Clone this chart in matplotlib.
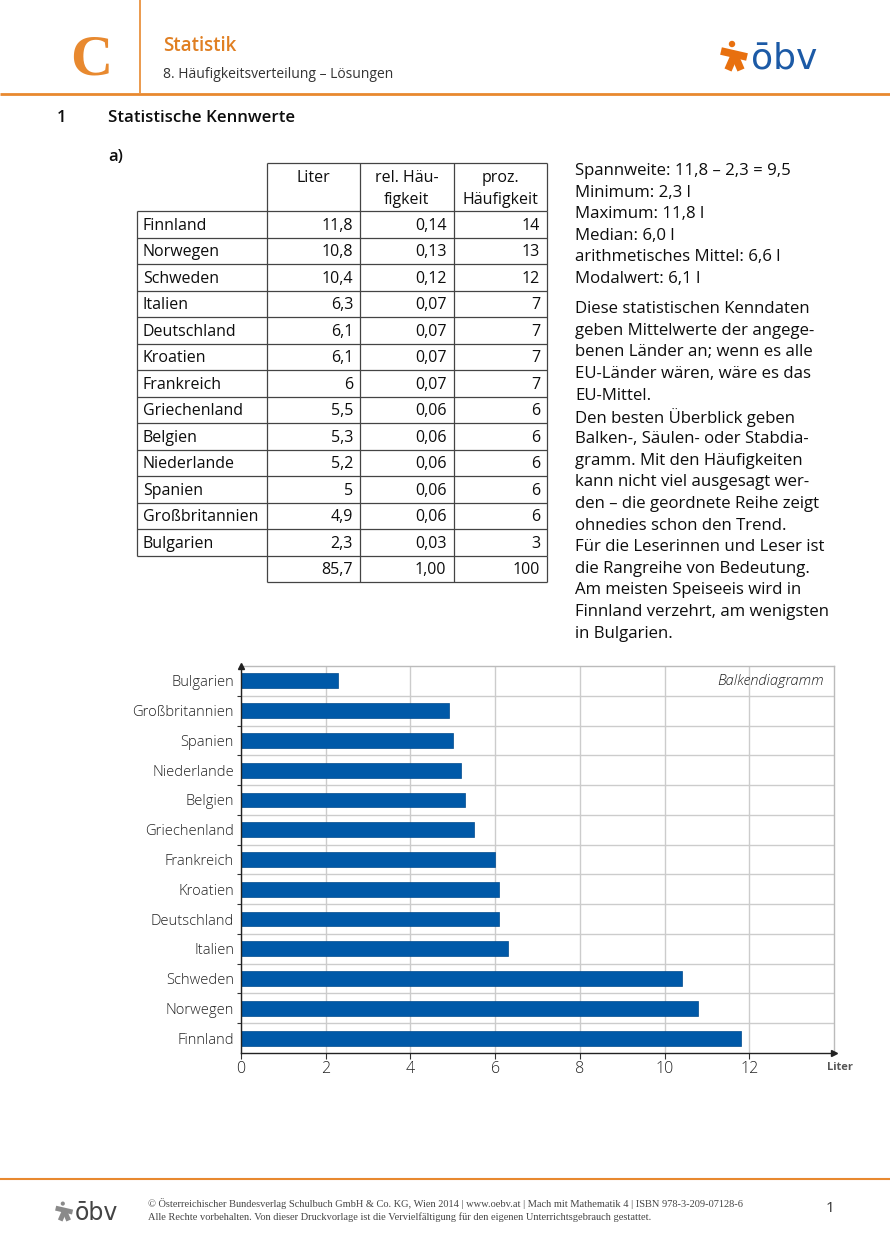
import matplotlib
matplotlib.use("Agg")
import matplotlib.pyplot as plt
import numpy as np

# ---------------- data ----------------
countries = ["Finnland", "Norwegen", "Schweden", "Italien", "Deutschland", "Kroatien",
             "Frankreich", "Griechenland", "Belgien", "Niederlande", "Spanien",
             "Großbritannien", "Bulgarien"]
liter = [11.8, 10.8, 10.4, 6.3, 6.1, 6.1, 6.0, 5.5, 5.3, 5.2, 5.0, 4.9, 2.3]
liter_txt = ["11,8", "10,8", "10,4", "6,3", "6,1", "6,1", "6", "5,5", "5,3", "5,2", "5", "4,9", "2,3"]
rel_txt = ["0,14", "0,13", "0,12", "0,07", "0,07", "0,07", "0,07", "0,06", "0,06", "0,06",
           "0,06", "0,06", "0,03"]
proz_txt = ["14", "13", "12", "7", "7", "7", "7", "6", "6", "6", "6", "6", "3"]
totals = ["85,7", "1,00", "100"]
col_headers = [["Liter"], ["rel. Häu-", "figkeit"], ["proz.", "Häufigkeit"]]
x_ticks = [0, 2, 4, 6, 8, 10, 12]

stats_lines = ["Spannweite: 11,8 – 2,3 = 9,5", "Minimum: 2,3 l", "Maximum: 11,8 l",
               "Median: 6,0 l", "arithmetisches Mittel: 6,6 l", "Modalwert: 6,1 l"]
para_lines = ["Diese statistischen Kenndaten", "geben Mittelwerte der angege-",
              "benen Länder an; wenn es alle", "EU-Länder wären, wäre es das",
              "EU-Mittel.", "Den besten Überblick geben", "Balken-, Säulen- oder Stabdia-",
              "gramm. Mit den Häufigkeiten", "kann nicht viel ausgesagt wer-",
              "den – die geordnete Reihe zeigt", "ohnedies schon den Trend.",
              "Für die Leserinnen und Leser ist", "die Rangreihe von Bedeutung.",
              "Am meisten Speiseeis wird in", "Finnland verzehrt, am wenigsten",
              "in Bulgarien."]

# ---------------- style ----------------
W, H = 890, 1259
ORANGE = "#E8892F"
BLUE_BAR = "#0059A8"
LOGO_BLUE = "#1C5AA6"
TXT = "#0d0d0d"
BODY = ["Open Sans", "DejaVu Sans"]
CHART = ["Open Sans", "DejaVu Sans"]

fig = plt.figure(figsize=(W / 100, H / 100), dpi=100)
page = fig.add_axes([0, 0, 1, 1])
page.set_xlim(0, W)
page.set_ylim(H, 0)
page.axis("off")

def t(x, y, s, size=11.5, ha="left", va="center", color=TXT, **kw):
    kw.setdefault("family", BODY)
    kw.setdefault("fontweight", 500)
    page.text(x, y, s, fontsize=size, ha=ha, va=va, color=color, **kw)

def line(xs, ys, color="#333333", lw=0.9, **kw):
    page.plot(xs, ys, color=color, lw=lw, solid_capstyle="butt", **kw)

# ---------------- header ----------------
line([140, 140], [0, 93], color=ORANGE, lw=1.2)
line([0, W], [93.5, 93.5], color=ORANGE, lw=2.0)
page.text(91, 60, "C", fontsize=42, ha="center", va="center", color=ORANGE,
          family=["Liberation Serif"], fontweight="bold")
t(163, 46, "Statistik", size=13.5, color="#E07F22", fontweight="semibold")
t(163, 74, "8. Häufigkeitsverteilung – Lösungen", size=10, color="#333333", fontweight="normal")

def logo(x0, y0, s, c_fig, c_txt, fs):
    # stylised figure
    page.add_patch(plt.Circle((x0 + 12 * s, y0 + 4 * s), 3.2 * s, color=c_fig, lw=0))
    line([x0 + 1 * s, x0 + 27 * s], [y0 + 11 * s, y0 + 17 * s], color=c_fig, lw=5.5 * s)
    line([x0 + 15 * s, x0 + 8 * s], [y0 + 14 * s, y0 + 30 * s], color=c_fig, lw=5.5 * s)
    line([x0 + 15 * s, x0 + 21 * s], [y0 + 16 * s, y0 + 30 * s], color=c_fig, lw=5.5 * s)
    page.text(x0 + 31 * s, y0 + 18 * s, "ōbv", fontsize=fs, ha="left", va="center",
              color=c_txt, family=["DejaVu Sans"])

logo(720, 40, 1.0, "#E8700F", LOGO_BLUE, 26)
logo(55, 1201, 0.65, "#8a8a8a", "#444444", 17)

# ---------------- section title ----------------
t(57, 118, "1", size=12, fontweight="semibold")
t(108, 118, "Statistische Kennwerte", size=12.2, fontweight="semibold")
t(108, 157, "a)", size=12, fontweight="semibold")

# ---------------- table ----------------
xl, c1, c2, c3, xr = 137, 267, 360, 453.5, 547
y_top, y_hb, step = 163, 211, 26.5
n = len(countries)
y_end = y_hb + n * step
y_tot = y_end + step
lw_t = 0.9
tc = "#444444"
# header box
line([c1, xr], [y_top, y_top], color=tc, lw=lw_t)
for xv in (c1, c2, c3, xr):
    line([xv, xv], [y_top, y_hb], color=tc, lw=lw_t)
# body
for i in range(n + 1):
    yy = y_hb + i * step
    line([xl, xr], [yy, yy], color=tc, lw=lw_t)
for xv in (xl, c1, c2, c3, xr):
    line([xv, xv], [y_hb, y_end], color=tc, lw=lw_t)
# totals row
line([c1, xr], [y_tot, y_tot], color=tc, lw=lw_t)
for xv in (c1, c2, c3, xr):
    line([xv, xv], [y_end, y_tot], color=tc, lw=lw_t)

centers = [(c1 + c2) / 2, (c2 + c3) / 2, (c3 + xr) / 2]
for cx, hdr in zip(centers, col_headers):
    for k, s in enumerate(hdr):
        t(cx, 178 + k * 22, s, ha="center")

for i in range(n):
    yc = y_hb + (i + 0.5) * step + 1.5
    t(xl + 6, yc, countries[i])
    t(c2 - 7, yc, liter_txt[i], ha="right")
    t(c3 - 7, yc, rel_txt[i], ha="right")
    t(xr - 7, yc, proz_txt[i], ha="right")
yc = y_end + step / 2 + 1.5
for xv, s in zip((c2, c3, xr), totals):
    t(xv - 7, yc, s, ha="right")

# ---------------- right text ----------------
for k, s in enumerate(stats_lines):
    t(575, 171 + k * 21.6, s, size=12.1)
for k, s in enumerate(para_lines):
    t(575, 309 + k * 21.65, s, size=12.1)

# ---------------- bar chart ----------------
ax_l, ax_r, ax_t, ax_b = 241, 834, 666, 1053
ax = fig.add_axes([ax_l / W, 1 - ax_b / H, (ax_r - ax_l) / W, (ax_b - ax_t) / H])
ypos = np.arange(n)
ax.barh(ypos, liter, height=0.5, color=BLUE_BAR, edgecolor="#004a8c", linewidth=0.5, zorder=3)
ax.set_xlim(0, 14)
ax.set_ylim(-0.5, n - 0.5)
ax.set_yticks(ypos)
ax.set_yticklabels(countries, family=CHART, fontsize=10.6, color="#222222", fontweight="light")
ax.set_yticks(np.arange(n - 1) + 0.5, minor=True)
ax.set_xticks(x_ticks)
ax.set_xticklabels([str(v) for v in x_ticks], family=CHART, fontsize=11.5, color="#222222",
                   fontweight="light")
ax.tick_params(axis="y", which="major", length=0, pad=5)
ax.tick_params(axis="y", which="minor", length=3, width=0.8, color="#333333", direction="out")
ax.tick_params(axis="x", which="major", length=4, width=0.8, color="#333333", pad=2)
ax.grid(axis="x", which="major", color="#cccccc", lw=1.0, zorder=0)
ax.grid(axis="y", which="minor", color="#cccccc", lw=1.0, zorder=0)
for sp in ("top", "right"):
    ax.spines[sp].set_color("#bbbbbb")
    ax.spines[sp].set_linewidth(1.0)
for sp in ("left", "bottom"):
    ax.spines[sp].set_color("#222222")
    ax.spines[sp].set_linewidth(1.0)
ax.spines["left"].set_zorder(4)
ax.spines["bottom"].set_zorder(4)
ax.plot([1], [0], marker=">", color="#222222", markersize=5, transform=ax.transAxes,
        clip_on=False, zorder=5)
ax.plot([0], [1], marker="^", color="#222222", markersize=5, transform=ax.transAxes,
        clip_on=False, zorder=5)
ax.text(0.983, 0.962, "Balkendiagramm", transform=ax.transAxes, ha="right", va="center",
        fontsize=10.5, style="italic", color="#222222", family=CHART, fontweight="light")

t(840, 1068, "Liter", size=8, ha="center", color="#555555", fontweight="bold")

# ---------------- footer ----------------
line([0, W], [1179, 1179], color=ORANGE, lw=1.5)
FOOT = ["Liberation Serif"]
t(148, 1204, "© Österreichischer Bundesverlag Schulbuch GmbH & Co. KG, Wien 2014 | www.oebv.at | "
  "Mach mit Mathematik 4 | ISBN 978-3-209-07128-6", size=7.5, color="#444444", family=FOOT,
  fontweight="normal")
t(148, 1217, "Alle Rechte vorbehalten. Von dieser Druckvorlage ist die Vervielfältigung für den "
  "eigenen Unterrichtsgebrauch gestattet.", size=7.5, color="#444444", family=FOOT,
  fontweight="normal")
t(830, 1208, "1", size=11, ha="center", color="#333333", fontweight="normal")

fig.savefig("out.png", dpi=100)
